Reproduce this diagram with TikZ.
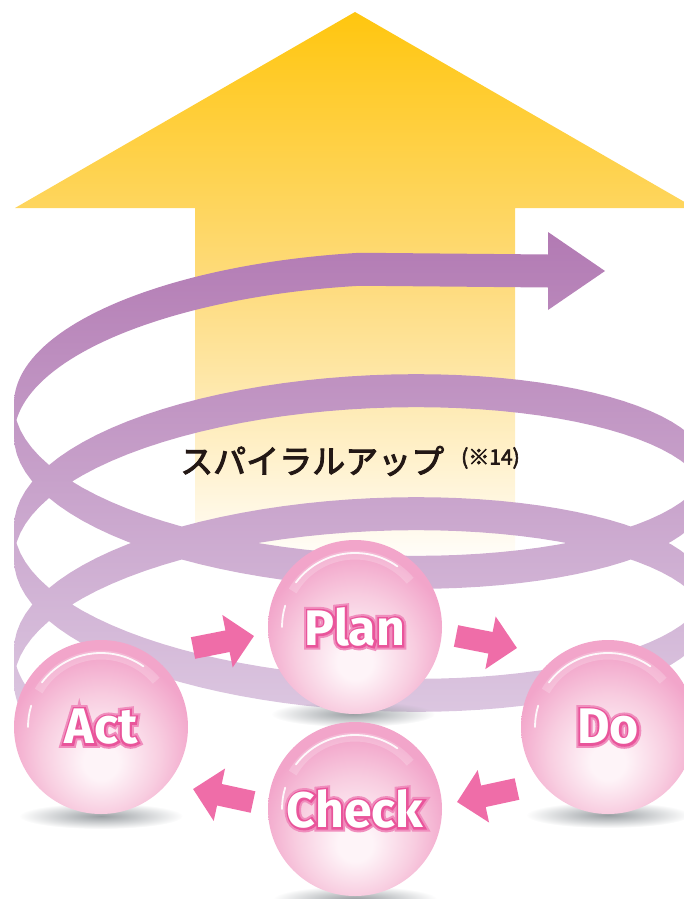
\documentclass[tikz,border=0pt]{standalone}
\usepackage{fontspec}
\usetikzlibrary{arrows.meta,fadings}

\newfontfamily\jpfont{Noto Sans CJK JP}[FakeBold=3]
\newfontfamily\wordfont{Fira Sans}
\newfontfamily\halofont{Fira Sans}[BoldFeatures={FakeBold=8}]
\newfontfamily\halowidefont{Fira Sans}[BoldFeatures={FakeBold=16}]

\definecolor{arrowTop}{HTML}{FFC60F}
\definecolor{arrowMid}{HTML}{FEDC80}
\definecolor{ribbonTop}{HTML}{B27AB3}
\definecolor{ribbonBot}{HTML}{DECBE3}
\definecolor{ballPink}{HTML}{F2A5CA}
\definecolor{ballMid}{HTML}{F8CDE0}
\definecolor{ballHi}{HTML}{FEF4F8}
\definecolor{glowPink}{HTML}{E9559B}
\definecolor{glowSoft}{HTML}{F08DBD}
\definecolor{cyclePink}{HTML}{EF6DA8}
\definecolor{inkJp}{HTML}{231815}
\definecolor{shadowGray}{HTML}{9A9FA3}

% ball: light spot low in the middle
\pgfdeclareradialshading{pinkball}{\pgfpoint{0bp}{-11bp}}{color(0bp)=(ballHi); color(5bp)=(ballHi); color(17bp)=(ballMid); color(27bp)=(ballPink); color(60bp)=(ballPink)}
\tikzfading[name=shadowfade, inner color=transparent!0, outer color=transparent!100]

% white word with pink halo
\newcommand\glowword[1]{%
  \leavevmode
  \rlap{\halowidefont\color{glowSoft}#1}%
  \rlap{\halofont\color{glowPink}#1}%
  {\color{white}#1}}

\tikzset{
  ball/.style={circle, minimum size=174pt, inner sep=0, shade, shading=pinkball,
    font=\wordfont\bfseries\fontsize{50}{50}\selectfont},
  gloss/.style={white, line width=1.8pt, line cap=round, opacity=.9},
  cyclearrow/.style={cyclePink, line width=22pt, -{Triangle[length=27pt,width=52pt]}},
  jptext/.style={text=inkJp, inner sep=0, anchor=west}
}

\begin{document}
\begin{tikzpicture}[x=1pt,y=-1pt,
  declare function={spx(\t)=360-346*cos(\t); spy(\t)=666-0.341667*\t-120*sin(\t);}]
\useasboundingbox (0,0) rectangle (684,899);
\clip (0,0) rectangle (684,899);

% big arrow
\shade[top color=arrowTop, bottom color=white, middle color=arrowMid]
  (355,12) -- (695,208) -- (515,208) -- (515,570) -- (195,570) -- (195,208) -- (15,208) -- cycle;

% spiral ribbon, every half turn as its own strip
\shade[top color=ribbonTop, bottom color=ribbonBot, samples=50]
  \foreach \l/\r in {0/-25, 0/180, 360/180, 360/540, 720/540} {
    plot[domain=\l:\r] ({spx(\x)},{spy(\x)-16.5}) -- plot[domain=\r:\l] ({spx(\x)},{spy(\x)+16.5}) -- cycle
  }
  plot[domain=720:810] ({spx(\x)},{spy(\x)-16.5}) -- (548,254.5) -- (548,232) -- (605,271)
  -- (548,310) -- (548,287.5) -- plot[domain=810:720] ({spx(\x)},{spy(\x)+16.5}) -- cycle;

\node[jptext, font=\jpfont\fontsize{33}{33}\selectfont] (spiral) at (180,461) {スパイラルアップ};
\node[jptext, font=\jpfont\fontsize{21}{21}\selectfont] (note) at (461,458) {(※14)};

% shadows
\foreach \x/\y in {101/816, 353/714, 608/815, 355/899}
  \fill[shadowGray, path fading=shadowfade] (\x,\y) ellipse [x radius=82, y radius=13];

% balls
\foreach \nm/\x/\y/\word in {plan/355/627/Plan, act/101/727/Act, do/608/727/Do, check/355/809/Check}{
  \node[ball] (\nm) at (\x,\y) {\glowword{\word}};
  \draw[white, opacity=.2, line width=9pt] ([shift={(-150:72)}]\nm.center) arc[start angle=-150, end angle=-40, radius=72];
  \draw[gloss] ([shift={(-143:74)}]\nm.center) arc[start angle=-143, end angle=-55, radius=74];
  \draw[gloss] ([shift={(-163:73)}]\nm.center) arc[start angle=-163, end angle=-180, radius=73];
}

% cycle
\coordinate (ap0) at ([shift={(92,-79)}]act.center);
\coordinate (ap1) at ([shift={(-101,9)}]plan.center);
\coordinate (pd0) at ([shift={(101,9)}]plan.center);
\coordinate (pd1) at ([shift={(-91,-79)}]do.center);
\coordinate (dc0) at ([shift={(-91,62)}]do.center);
\coordinate (dc1) at ([shift={(102,-7)}]check.center);
\coordinate (ca0) at ([shift={(-102,-7)}]check.center);
\coordinate (ca1) at ([shift={(92,62)}]act.center);
\draw[cyclearrow] (ap0) -- (ap1);
\draw[cyclearrow] (pd0) -- (pd1);
\draw[cyclearrow] (dc0) -- (dc1);
\draw[cyclearrow] (ca0) -- (ca1);

\end{tikzpicture}
\end{document}
